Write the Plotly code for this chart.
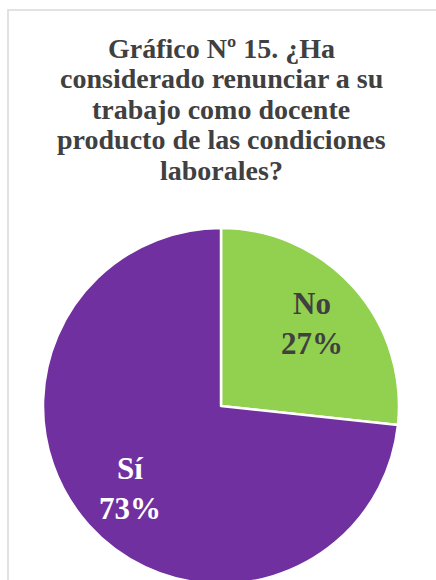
import math
import plotly.graph_objects as go

# Data
labels = ["No", "Sí"]
values = [26.7, 73.3]
colors = ["#92D050", "#7030A0"]
text_colors = ["#404040", "#FFFFFF"]
title_lines = [
    "Gráfico Nº 15. ¿Ha",
    "considerado renunciar a su",
    "trabajo como docente",
    "producto de las condiciones",
    "laborales?",
]

W, H = 436, 600
# pie domain in pixels
PX0, PX1, PY0, PY1 = 43, 399, 228, 584

fig = go.Figure(
    go.Pie(
        labels=labels,
        values=values,
        sort=False,
        direction="clockwise",
        rotation=0,
        marker=dict(colors=colors, line=dict(color="#FFFFFF", width=2.5)),
        textinfo="none",
        hoverinfo="label+percent",
        domain=dict(x=[PX0 / W, PX1 / W], y=[(H - PY1) / H, (H - PY0) / H]),
        showlegend=False,
    )
)

annotations = []
# slice labels placed from the slice mid-angles
total = sum(values)
cx, cy, r = (PX0 + PX1) / 2, (PY0 + PY1) / 2, (PX1 - PX0) / 2
start = 0.0
for lab, val, tc in zip(labels, values, text_colors):
    frac = val / total
    mid = (start + frac / 2) * 2 * math.pi
    start += frac
    rr = 0.69 * r
    px = cx + rr * math.sin(mid)
    py = cy - rr * math.cos(mid)
    annotations.append(
        dict(
            text=f"<b>{lab}</b><br><b>{round(frac * 100)}%</b>",
            x=px / W,
            y=(H - py) / H,
            xref="paper",
            yref="paper",
            xanchor="center",
            yanchor="middle",
            showarrow=False,
            font=dict(family="Liberation Serif", size=31, color=tc),
        )
    )

# title lines
for i, line in enumerate(title_lines):
    baseline = 56.7 + i * 30.6
    mid_y = baseline - 8.5
    annotations.append(
        dict(
            text=f"<b>{line}</b>",
            x=221 / W,
            y=(H - mid_y) / H,
            xref="paper",
            yref="paper",
            xanchor="center",
            yanchor="middle",
            showarrow=False,
            font=dict(family="Liberation Serif", size=28, color="#404040"),
        )
    )

fig.update_layout(
    width=W,
    height=H,
    margin=dict(l=0, r=0, t=0, b=0),
    paper_bgcolor="#FFFFFF",
    annotations=annotations,
    shapes=[
        dict(
            type="rect",
            xref="paper",
            yref="paper",
            x0=8 / W,
            x1=1.05,
            y0=-0.1,
            y1=(H - 10) / H,
            line=dict(color="#D9D9D9", width=1.5),
            fillcolor="rgba(0,0,0,0)",
            layer="below",
        )
    ],
)

fig.write_html(
    "out.html",
    post_script="document.documentElement.style.overflow='hidden';document.body.style.overflow='hidden';document.body.style.margin='0';",
)
